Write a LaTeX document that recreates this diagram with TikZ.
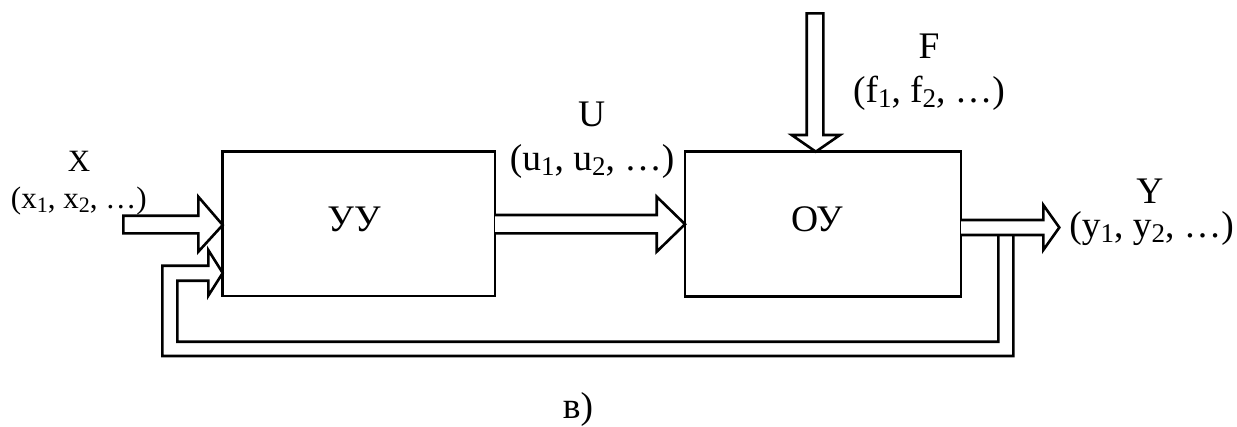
\documentclass[tikz,border=0pt]{standalone}
\usepackage{fontspec}
\setmainfont{Liberation Serif}
\newcommand\subA[1]{\raisebox{-5pt}{\fontsize{27}{27}\selectfont #1}}
\newcommand\subX[1]{\raisebox{-4pt}{\fontsize{22}{22}\selectfont #1}}
\begin{document}
\begin{tikzpicture}[x=1pt,y=-1pt,line width=2.6pt,line join=miter,
  box/.style={draw,rectangle,inner sep=0pt,line width=2.6pt},
  big/.style={font=\fontsize{37.5}{40}\selectfont,inner sep=0pt,anchor=base},
  small/.style={font=\fontsize{31}{34}\selectfont,inner sep=0pt,anchor=base},
  blockarrow/.style={draw,fill=white,line width=2.6pt},
  pipe/.style={draw,line width=2.6pt}]
\useasboundingbox (0,0) rectangle (1237,426);
% blocks
\node[box,minimum width=272.3pt,minimum height=144.3pt] (uu) at (358.85,223.85) {};
\node[box,minimum width=276pt,minimum height=145pt] (ou) at (823,224.2) {};
\node[big] (tuu) at (354,231.7) {УУ};
\node[big] (tou) at (817,231.5) {ОУ};
% feedback pipe
\draw[pipe] (1013.3,235) -- (1013.3,356) -- (162.3,356) -- (162.3,265.7) -- (208.3,265.7)
  -- (208.3,250) -- (222.7,273) -- (208.3,295.7) -- (208.3,280.7) -- (177.3,280.7)
  -- (177.3,341.7) -- (998.3,341.7) -- (998.3,235);
% input X
\draw[blockarrow] (123.3,215.7) -- (198.3,215.7) -- (198.3,196.7) -- (222.7,225)
  -- (198.3,251.7) -- (198.3,233.3) -- (123.3,233.3) -- cycle;
% U arrow
\draw[blockarrow] (495,215) -- (656.7,215) -- (656.7,196.7) -- (685,224.2)
  -- (656.7,251.7) -- (656.7,233.3) -- (495,233.3);
% F arrow
\draw[blockarrow] (806.7,13.3) -- (823.3,13.3) -- (823.3,135) -- (840,135) -- (815.8,151.7)
  -- (791.7,135) -- (806.7,135) -- cycle;
% output Y
\draw[blockarrow] (961,220) -- (1043.3,220) -- (1043.3,205) -- (1059.3,227.5)
  -- (1043.3,250) -- (1043.3,235) -- (961,235);
% labels
\node[small] (lx) at (79,171.7) {X};
\node[small] (lxs) at (78.8,208.3) {(x\subX{1}, x\subX{2}, …)};
\node[big] (lu) at (591.7,126.7) {U};
\node[big] (lus) at (592.2,170.4) {(u\subA{1}, u\subA{2}, …)};
\node[big] (lf) at (929,58) {F};
\node[big] (lfs) at (929,102) {(f\subA{1}, f\subA{2}, …)};
\node[big] (ly) at (1150,203.3) {Y};
\node[big] (lys) at (1151.7,237.6) {(y\subA{1}, y\subA{2}, …)};
\node[big] (cap) at (578,418.4) {в)};
\end{tikzpicture}
\end{document}
